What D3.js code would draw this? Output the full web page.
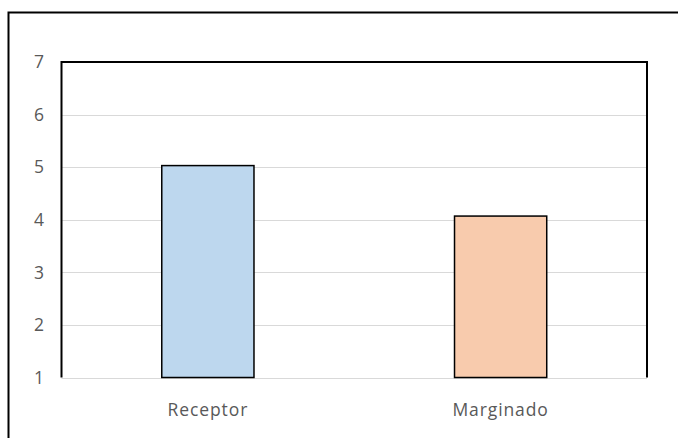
<!DOCTYPE html>
<html>
<head>
    <meta charset="utf-8">
    <title>Receptor / Marginado</title>
    <script src="https://d3js.org/d3.v7.min.js"></script>
    <style>
        body { margin: 0; padding: 0; background: #fff; }
        svg { display: block; }
        .tick-label { font-family: "Open Sans", sans-serif; font-size: 17.5px; fill: #595959; }
        .cat-label { font-family: "Open Sans", sans-serif; font-size: 17.5px; fill: #595959; letter-spacing: 0.9px; }
    </style>
</head>
<body>
    <svg width="678" height="438"></svg>
    <script>
        // data
        var categories = ['Receptor', 'Marginado'];
        var values = [5.03, 4.07];
        var colors = ['#BDD7EE', '#F8CBAD'];
        var yTicks = [1, 2, 3, 4, 5, 6, 7];

        var svg = d3.select('svg');
        var margin = { left: 61.5, right: 31, top: 62, bottom: 60.5 };
        var width = +svg.attr('width');
        var height = +svg.attr('height');

        // outer frame (right/bottom edges run past the picture)
        svg.append('rect')
            .attr('x', 8.5).attr('y', 12.5)
            .attr('width', 700).attr('height', 460)
            .attr('fill', 'none')
            .attr('stroke', '#000')
            .attr('stroke-width', 2);

        var x = d3.scaleBand()
            .domain(categories)
            .range([margin.left, width - margin.right])
            .paddingInner(0.685)
            .paddingOuter(0.3425);

        var y = d3.scaleLinear()
            .domain([1, 7])
            .range([height - margin.bottom, margin.top]);

        // gridlines
        svg.append('g')
            .selectAll('line')
            .data(yTicks.slice(0, -1))
            .enter().append('line')
            .attr('x1', margin.left)
            .attr('x2', width - margin.right)
            .attr('y1', function(d) { return Math.round(y(d)) + 0.5; })
            .attr('y2', function(d) { return Math.round(y(d)) + 0.5; })
            .attr('stroke', '#d9d9d9')
            .attr('stroke-width', 1.2);

        // plot border: top, left, right
        var L = margin.left, R = width - margin.right, T = margin.top, B = y(1);
        svg.append('path')
            .attr('d', 'M' + L + ',' + B + 'V' + T + 'H' + R + 'V' + B)
            .attr('fill', 'none')
            .attr('stroke', '#000')
            .attr('stroke-width', 2);

        // y tick labels
        svg.append('g')
            .selectAll('text')
            .data(yTicks)
            .enter().append('text')
            .attr('class', 'tick-label')
            .attr('x', 44)
            .attr('y', function(d) { return y(d); })
            .attr('dy', '0.36em')
            .style('text-anchor', 'end')
            .text(function(d) { return d; });

        // bars
        svg.append('g')
            .selectAll('rect')
            .data(categories)
            .enter().append('rect')
            .attr('x', function(d) { return x(d); })
            .attr('width', x.bandwidth())
            .attr('y', function(d, i) { return y(values[i]); })
            .attr('height', function(d, i) { return y(1) - y(values[i]); })
            .attr('fill', function(d, i) { return colors[i]; })
            .attr('stroke', '#000')
            .attr('stroke-width', 1.5);

        // category labels
        svg.append('g')
            .selectAll('text')
            .data(categories)
            .enter().append('text')
            .attr('class', 'cat-label')
            .attr('x', function(d) { return x(d) + x.bandwidth() / 2; })
            .attr('y', 416)
            .style('text-anchor', 'middle')
            .text(function(d) { return d; });
    </script>
</body>
</html>
